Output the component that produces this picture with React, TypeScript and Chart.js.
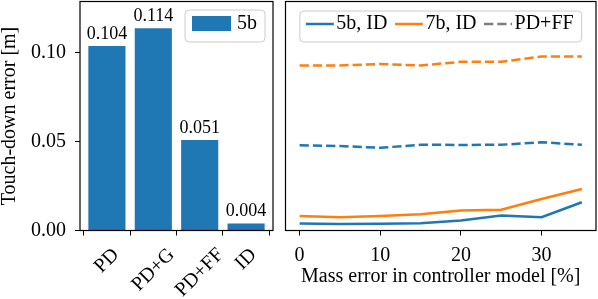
import React, { useEffect, useRef } from 'react';
import { Chart, registerables } from 'chart.js';
Chart.register(...registerables);

const FAMILY = '"Liberation Serif", "Times New Roman", "DejaVu Serif", serif';

// Left panel: bar chart
const controllers = ['PD', 'PD+G', 'PD+FF', 'ID'];
const bar5b = [0.104, 0.114, 0.051, 0.004];
const barLabel = '5b';
const yTicks = [0, 0.05, 0.1];

// Right panel: line chart
const massError = [0, 5, 10, 15, 20, 25, 30, 35];
const id5b = [0.004, 0.0036, 0.0038, 0.0041, 0.0057, 0.0085, 0.0075, 0.0159];
const id7b = [0.0081, 0.0075, 0.0081, 0.0092, 0.0113, 0.0117, 0.0177, 0.0234];
const pdff5b = [0.048, 0.0476, 0.0466, 0.0483, 0.0482, 0.0483, 0.0497, 0.0483];
const pdff7b = [0.093, 0.093, 0.0938, 0.093, 0.095, 0.0951, 0.098, 0.098];
const xTicks = [0, 10, 20, 30];
const legendLabels = ['5b, ID', '7b, ID', 'PD+FF'];

const BLUE = '#1f77b4';
const ORANGE = '#ff7f0e';
const GRAY = '#7f7f7f';
const DASH = [9.25, 4];

const frame = {
  id: 'frame',
  afterDatasetsDraw(chart: any) {
    const { ctx, chartArea: a } = chart;
    ctx.save();
    ctx.strokeStyle = '#000';
    ctx.lineWidth = 1.2;
    ctx.strokeRect(a.left, a.top, a.right - a.left, a.bottom - a.top);
    ctx.restore();
  },
};

function legendBox(ctx: CanvasRenderingContext2D, x: number, y: number, w: number, h: number) {
  ctx.save();
  ctx.beginPath();
  (ctx as any).roundRect(x, y, w, h, 4);
  ctx.fillStyle = 'rgba(255,255,255,0.8)';
  ctx.fill();
  ctx.strokeStyle = '#cccccc';
  ctx.lineWidth = 1;
  ctx.stroke();
  ctx.restore();
}

const barExtras = {
  id: 'barExtras',
  afterDraw(chart: any) {
    const { ctx, chartArea: a, scales } = chart;
    ctx.save();
    ctx.fillStyle = '#000';
    // value labels
    ctx.font = `18px ${FAMILY}`;
    ctx.textAlign = 'center';
    ctx.textBaseline = 'alphabetic';
    bar5b.forEach((v, i) => {
      const x = scales.x.getPixelForValue(i);
      const y = scales.y.getPixelForValue(v);
      ctx.fillText(v.toFixed(3), x, y - 7);
    });
    // rotated category labels
    ctx.font = `20px ${FAMILY}`;
    controllers.forEach((c, i) => {
      const x = scales.x.getPixelForValue(i);
      const w = ctx.measureText(c).width;
      const bh = (w + 22) * Math.SQRT1_2;
      const cy = a.bottom + 13.5 + bh / 2;
      ctx.save();
      ctx.translate(x, cy);
      ctx.rotate(-Math.PI / 4);
      ctx.textAlign = 'center';
      ctx.textBaseline = 'middle';
      ctx.fillText(c, 0, 0);
      ctx.restore();
    });
    // legend
    ctx.font = `20px ${FAMILY}`;
    const tw = ctx.measureText(barLabel).width;
    const bw = 7 + 39 + 6 + tw + 8;
    const bx = a.right - 8 - bw;
    const by = a.top + 8.5;
    legendBox(ctx, bx, by, bw, 32);
    ctx.fillStyle = BLUE;
    ctx.fillRect(bx + 7, by + 6, 39, 15);
    ctx.fillStyle = '#000';
    ctx.textAlign = 'left';
    ctx.textBaseline = 'middle';
    ctx.fillText(barLabel, bx + 7 + 39 + 6, by + 14);
    ctx.restore();
  },
};

const lineLegend = {
  id: 'lineLegend',
  afterDraw(chart: any) {
    const { ctx, chartArea: a } = chart;
    ctx.save();
    ctx.font = `20px ${FAMILY}`;
    const colors = [BLUE, ORANGE, GRAY];
    const dashed = [false, false, true];
    const handle = 28;
    const gapH = 2.5;
    const colGap = 7.5;
    const widths = legendLabels.map((l) => ctx.measureText(l).width);
    let total = 6 + 8;
    widths.forEach((w, i) => {
      total += handle + gapH + w + (i < widths.length - 1 ? colGap : 0);
    });
    const bx = (a.left + a.right) / 2 - total / 2;
    const by = a.top + 9.5;
    const bh = 31;
    legendBox(ctx, bx, by, total, bh);
    let x = bx + 6;
    const cy = by + 13;
    legendLabels.forEach((l, i) => {
      ctx.beginPath();
      ctx.strokeStyle = colors[i];
      ctx.lineWidth = 2.5;
      ctx.setLineDash(dashed[i] ? DASH : []);
      ctx.moveTo(x, cy);
      ctx.lineTo(x + handle, cy);
      ctx.stroke();
      ctx.setLineDash([]);
      x += handle + gapH;
      ctx.fillStyle = '#000';
      ctx.textAlign = 'left';
      ctx.textBaseline = 'middle';
      ctx.fillText(l, x, cy);
      x += widths[i] + colGap;
    });
    ctx.restore();
  },
};

export default function App() {
  const leftRef = useRef<HTMLCanvasElement>(null);
  const rightRef = useRef<HTMLCanvasElement>(null);

  useEffect(() => {
    Chart.defaults.font.family = FAMILY;
    const tickFont = { family: FAMILY, size: 20 };
    const left = new Chart(leftRef.current!, {
      type: 'bar',
      data: {
        datasets: [
          {
            label: barLabel,
            data: bar5b.map((v, i) => ({ x: i, y: v })),
            backgroundColor: BLUE,
            categoryPercentage: 1,
            barPercentage: 0.8,
          } as any,
        ],
      },
      options: {
        animation: false,
        responsive: false,
        layout: { padding: { left: 0, right: 7, top: 1.5, bottom: 0 } },
        plugins: { legend: { display: false }, tooltip: { enabled: false } },
        scales: {
          x: {
            type: 'linear',
            min: -0.58,
            max: 3.58,
            offset: false,
            afterBuildTicks: (s: any) => {
              s.ticks = controllers.map((_, i) => ({ value: i }));
            },
            afterFit: (s: any) => {
              s.height = 68.5;
              s.paddingLeft = 0;
              s.paddingRight = 0;
            },
            ticks: { display: false },
            grid: { drawOnChartArea: false, drawTicks: true, tickLength: 5, color: '#000', lineWidth: 1 },
            border: { display: false },
          },
          y: {
            min: 0,
            max: 0.129,
            afterBuildTicks: (s: any) => {
              s.ticks = yTicks.map((v) => ({ value: v }));
            },
            afterFit: (s: any) => {
              s.width = 80;
              s.paddingTop = 0;
              s.paddingBottom = 0;
            },
            ticks: {
              font: tickFont,
              color: '#000',
              padding: 9,
              callback: (v: any) => Number(v).toFixed(2),
            },
            grid: { drawOnChartArea: false, drawTicks: true, tickLength: 5, color: '#000', lineWidth: 1 },
            border: { display: false },
            title: {
              display: true,
              text: 'Touch-down error [m]',
              font: { family: FAMILY, size: 20, lineHeight: 1 },
              color: '#000',
              padding: { top: 0, bottom: 0 },
            },
          },
        } as any,
      },
      plugins: [frame, barExtras],
    });

    const mk = (ys: number[]) => massError.map((x, i) => ({ x, y: ys[i] }));
    const right = new Chart(rightRef.current!, {
      type: 'line',
      data: {
        datasets: [
          { label: '5b, ID', data: mk(id5b), borderColor: BLUE, borderWidth: 2.5, pointRadius: 0, tension: 0, fill: false },
          { label: '7b, ID', data: mk(id7b), borderColor: ORANGE, borderWidth: 2.5, pointRadius: 0, tension: 0, fill: false },
          { label: '5b, PD+FF', data: mk(pdff5b), borderColor: BLUE, borderWidth: 2.5, borderDash: DASH, pointRadius: 0, tension: 0, fill: false },
          { label: '7b, PD+FF', data: mk(pdff7b), borderColor: ORANGE, borderWidth: 2.5, borderDash: DASH, pointRadius: 0, tension: 0, fill: false },
        ] as any,
      },
      options: {
        animation: false,
        responsive: false,
        layout: { padding: { left: 5.5, right: 2, top: 1.5, bottom: 0 } },
        plugins: { legend: { display: false }, tooltip: { enabled: false } },
        scales: {
          x: {
            type: 'linear',
            min: -1.75,
            max: 36.75,
            afterBuildTicks: (s: any) => {
              s.ticks = xTicks.map((v) => ({ value: v }));
            },
            afterFit: (s: any) => {
              s.height = 68.5;
              s.paddingLeft = 0;
              s.paddingRight = 0;
            },
            ticks: { font: tickFont, color: '#000', padding: 8, maxRotation: 0, autoSkip: false },
            grid: { drawOnChartArea: false, drawTicks: true, tickLength: 5, color: '#000', lineWidth: 1 },
            border: { display: false },
            title: {
              display: true,
              text: 'Mass error in controller model [%]',
              font: { family: FAMILY, size: 20 },
              color: '#000',
              padding: { top: 0, bottom: 10.5 },
            },
          },
          y: { display: false, min: 0, max: 0.129 },
        } as any,
      },
      plugins: [frame, lineLegend],
    });

    return () => {
      left.destroy();
      right.destroy();
    };
  }, []);

  return (
    <div style={{ position: 'absolute', left: 0, top: 0, width: 598, height: 299, background: '#fff' }}>
      <canvas ref={leftRef} width={280} height={299} style={{ position: 'absolute', left: 0, top: 0, width: 280, height: 299 }} />
      <canvas ref={rightRef} width={318} height={299} style={{ position: 'absolute', left: 280, top: 0, width: 318, height: 299 }} />
    </div>
  );
}
